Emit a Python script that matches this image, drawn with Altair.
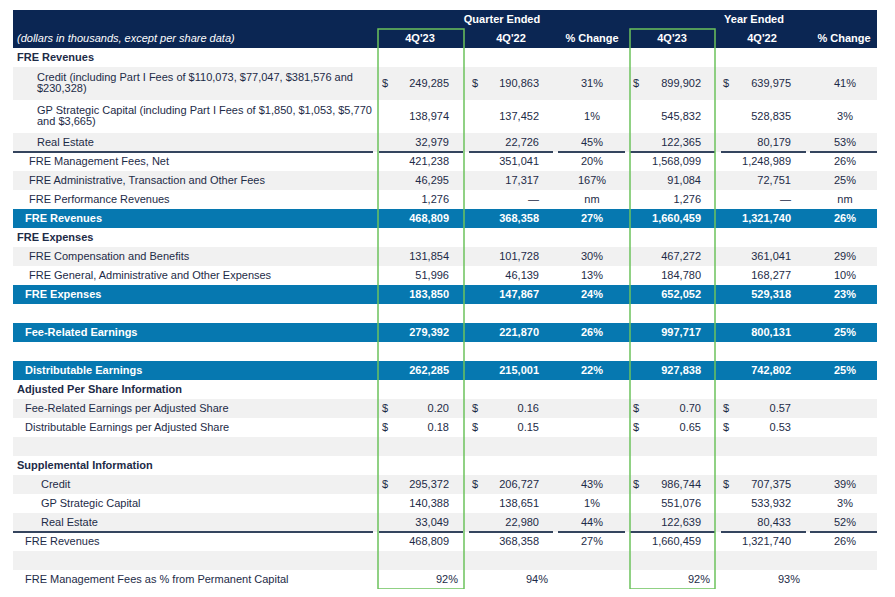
import altair as alt
import pandas as pd

# ---------------- data ----------------
labels = [
    "FRE Revenues",
    "Credit (including Part I Fees of $110,073, $77,047, $381,576 and\n$230,328)",
    "GP Strategic Capital (including Part I Fees of $1,850, $1,053, $5,770\nand $3,665)",
    "Real Estate",
    "FRE Management Fees, Net",
    "FRE Administrative, Transaction and Other Fees",
    "FRE Performance Revenues",
    "FRE Revenues",
    "FRE Expenses",
    "FRE Compensation and Benefits",
    "FRE General, Administrative and Other Expenses",
    "FRE Expenses",
    "",
    "Fee-Related Earnings",
    "",
    "Distributable Earnings",
    "Adjusted Per Share Information",
    "Fee-Related Earnings per Adjusted Share",
    "Distributable Earnings per Adjusted Share",
    "",
    "Supplemental Information",
    "Credit",
    "GP Strategic Capital",
    "Real Estate",
    "FRE Revenues",
    "",
    "FRE Management Fees as % from Permanent Capital",
]
kinds = ["section", "item2", "item2", "item2", "item1", "item1", "item1", "total",
         "section", "item1", "item1", "total", "blank", "total", "blank", "total",
         "section", "sub", "sub", "blank", "section", "supp2", "supp2", "supp2",
         "sub", "blank", "sub"]

q23 = [None, 249285, 138974, 32979, 421238, 46295, 1276, 468809, None, 131854, 51996,
       183850, None, 279392, None, 262285, None, 0.20, 0.18, None, None, 295372, 140388,
       33049, 468809, None, 92]
q22 = [None, 190863, 137452, 22726, 351041, 17317, 0, 368358, None, 101728, 46139,
       147867, None, 221870, None, 215001, None, 0.16, 0.15, None, None, 206727, 138651,
       22980, 368358, None, 94]
q_chg = [None, 31, 1, 45, 20, 167, "nm", 27, None, 30, 13, 24, None, 26, None, 22, None,
         None, None, None, None, 43, 1, 44, 27, None, None]
y23 = [None, 899902, 545832, 122365, 1568099, 91084, 1276, 1660459, None, 467272, 184780,
       652052, None, 997717, None, 927838, None, 0.70, 0.65, None, None, 986744, 551076,
       122639, 1660459, None, 92]
y22 = [None, 639975, 528835, 80179, 1248989, 72751, 0, 1321740, None, 361041, 168277,
       529318, None, 800131, None, 742802, None, 0.57, 0.53, None, None, 707375, 533932,
       80433, 1321740, None, 93]
y_chg = [None, 41, 3, 53, 26, 25, "nm", 26, None, 29, 10, 23, None, 25, None, 25, None,
         None, None, None, None, 39, 3, 52, 26, None, None]

dollar_rows = [1, 17, 18, 21]
eps_rows = [17, 18]
pct_rows = [26]
underline_after = [3, 23]

group_headers = ["Quarter Ended", "Year Ended"]
col_headers = ["4Q'23", "4Q'22", "% Change", "4Q'23", "4Q'22", "% Change"]
subtitle = "(dollars in thousands, except per share data)"

# ---------------- layout / style ----------------
FONT = "Liberation Sans"
W, H = 879, 581
X0, Y0 = 8, 8
LEFT, RIGHT = 13, 877
HEAD_TOP, HEAD_ROW = 10, 19
ROW_H, TALL_H = 19, 33
LINE_H = 11
INDENT = {"section": 17, "item2": 37, "item1": 29, "total": 25, "sub": 25, "supp2": 41, "blank": 25}
# (kind, right edge / center, dollar x)
COLS = [("val", 449, 382), ("val", 539, 472), ("chg", 592, None),
        ("val", 701, 633), ("val", 791, 723), ("chg", 845, None)]
HEAD_CENTERS = [420, 511, 592, 672, 762, 844]
GROUP_CENTERS = [502, 754]
UL_SEGS = [(13, 373), (379, 463), (469, 553), (558, 625), (630, 715), (721, 806), (810, 877)]
BOXES = [(378, 464), (630, 715)]

NAVY, BLUE, GREY, WHITE = "#0b2653", "#0678b0", "#f1f1f1", "#ffffff"
TXT, RULE, GREEN = "#1d2b47", "#34445e", "#6cc25c"

# row geometry
tops, bots = [], []
y = HEAD_TOP + 2 * HEAD_ROW
for i, lab in enumerate(labels):
    h = TALL_H if "\n" in lab else ROW_H
    tops.append(y)
    bots.append(y + h)
    y += h
BOTTOM = bots[-1]


def fmt_val(v, i):
    if v is None:
        return ""
    if i in pct_rows:
        return f"{v:.0f}%"
    if i in eps_rows:
        return f"{v:.2f}"
    if v == 0:
        return "\u2014"
    return f"{v:,.0f}"


def fmt_chg(v):
    if v is None:
        return ""
    if isinstance(v, str):
        return v
    return f"{v:.0f}%"


# backgrounds
rects = [dict(x=LEFT, x2=RIGHT, y=HEAD_TOP, y2=HEAD_TOP + 2 * HEAD_ROW, fill=NAVY)]
for i, k in enumerate(kinds):
    if k == "total":
        fill = BLUE
    elif i % 2 == 1:
        fill = GREY
    else:
        continue
    rects.append(dict(x=LEFT, x2=RIGHT, y=tops[i], y2=bots[i], fill=fill))
rect_df = pd.DataFrame(rects)

rules = []
for i in underline_after:
    for a, b in UL_SEGS:
        rules.append(dict(x=a, x2=b, y=bots[i]))
rule_df = pd.DataFrame(rules)

box_df = pd.DataFrame([dict(x=a, x2=b, y=HEAD_TOP + HEAD_ROW, y2=BOTTOM) for a, b in BOXES])

# texts
texts = []
hy1 = HEAD_TOP + HEAD_ROW / 2
hy2 = HEAD_TOP + HEAD_ROW * 1.5
for g, cx in zip(group_headers, GROUP_CENTERS):
    texts.append(dict(x=cx, y=hy1, t=g, align="center", w="bold", s="normal", c=WHITE))
texts.append(dict(x=17, y=hy2, t=subtitle, align="left", w="normal", s="italic", c=WHITE))
for h, cx in zip(col_headers, HEAD_CENTERS):
    texts.append(dict(x=cx, y=hy2, t=h, align="center", w="bold", s="normal", c=WHITE))

series = [q23, q22, q_chg, y23, y22, y_chg]
for i, (lab, k) in enumerate(zip(labels, kinds)):
    cy = (tops[i] + bots[i]) / 2
    bold = k in ("section", "total")
    col = WHITE if k == "total" else TXT
    w = "bold" if bold else "normal"
    if lab:
        n_lines = lab.count("\n") + 1
        ly = cy - (n_lines - 1) * LINE_H / 2
        texts.append(dict(x=INDENT[k], y=ly, t=lab, align="left", w=w, s="normal", c=col))
    for (ck, pos, dx), ser in zip(COLS, series):
        v = ser[i]
        if ck == "val":
            s = fmt_val(v, i)
            if s:
                xr = pos + (9 if i in pct_rows else 0)
                texts.append(dict(x=xr, y=cy, t=s, align="right", w=w, s="normal", c=col))
                if i in dollar_rows:
                    texts.append(dict(x=dx, y=cy, t="$", align="left", w=w, s="normal", c=col))
        else:
            s = fmt_chg(v)
            if s:
                texts.append(dict(x=pos, y=cy, t=s, align="center", w=w, s="normal", c=col))
text_df = pd.DataFrame(texts)

xs = alt.Scale(domain=[X0, X0 + W], nice=False, zero=False)
ys = alt.Scale(domain=[Y0, Y0 + H], nice=False, zero=False, reverse=True)

bg = alt.Chart(rect_df).mark_rect().encode(
    x=alt.X("x:Q", scale=xs, axis=None), x2="x2:Q",
    y=alt.Y("y:Q", scale=ys, axis=None), y2="y2:Q",
    color=alt.Color("fill:N", scale=None),
)
ul = alt.Chart(rule_df).mark_rule(strokeWidth=2, color=RULE).encode(
    x=alt.X("x:Q", scale=xs, axis=None), x2="x2:Q",
    y=alt.Y("y:Q", scale=ys, axis=None),
)
box = alt.Chart(box_df).mark_rect(fillOpacity=0, stroke=GREEN, strokeWidth=1.5).encode(
    x=alt.X("x:Q", scale=xs, axis=None), x2="x2:Q",
    y=alt.Y("y:Q", scale=ys, axis=None), y2="y2:Q",
)

layers = [bg, ul]
for (al, w, s), sub in text_df.groupby(["align", "w", "s"]):
    layers.append(
        alt.Chart(sub.reset_index(drop=True)).mark_text(
            align=al, baseline="middle", font=FONT, fontSize=11, fontWeight=w,
            fontStyle=s, lineBreak="\n", lineHeight=LINE_H,
        ).encode(
            x=alt.X("x:Q", scale=xs, axis=None),
            y=alt.Y("y:Q", scale=ys, axis=None),
            text="t:N",
            color=alt.Color("c:N", scale=None),
        )
    )
layers.append(box)

chart = alt.layer(*layers).properties(
    width=W, height=H, padding=0, autosize=alt.AutoSizeParams(type="none"),
    background="white",
).configure_view(stroke=None)

chart.save("out.html", embed_options={"renderer": "svg", "actions": False})
